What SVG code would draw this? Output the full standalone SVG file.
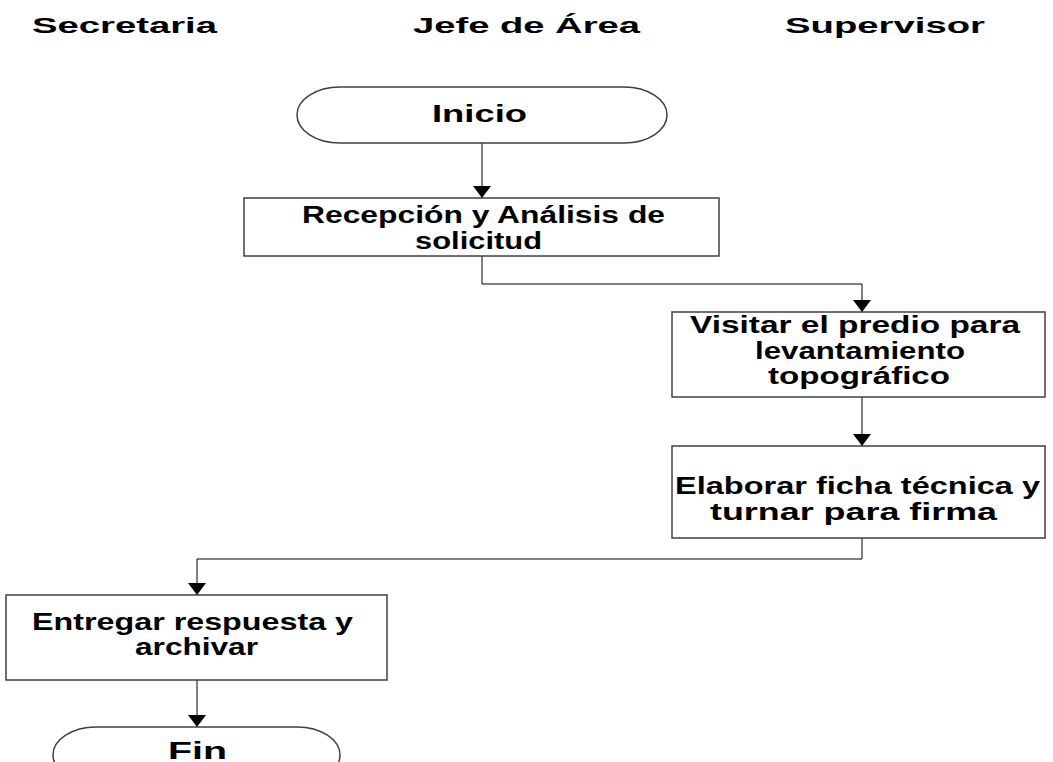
<svg xmlns="http://www.w3.org/2000/svg" width="1053" height="762" viewBox="0 0 1053 762">
<defs>
<style>
.t{font-family:"Liberation Sans",Arial,sans-serif;font-weight:bold;fill:#000;}
.h{font-size:22px;}
.b{font-size:23px;}
.s{fill:#fff;stroke:#404040;stroke-width:1.5;}
.c{fill:none;stroke:#000;stroke-width:1;}
</style>
<marker id="ar" markerWidth="12" markerHeight="18" refX="12" refY="9" orient="auto" markerUnits="userSpaceOnUse">
<path d="M0,0 L12,9 L0,18 Z" fill="#000"/>
</marker>
</defs>
<rect width="1053" height="762" fill="#fff"/>
<g id="headers">
<text class="t h" x="32" y="33" textLength="185" lengthAdjust="spacingAndGlyphs">Secretaria</text>
<text class="t h" x="413" y="33" textLength="227" lengthAdjust="spacingAndGlyphs">Jefe de Área</text>
<text class="t h" x="785" y="33" textLength="200" lengthAdjust="spacingAndGlyphs">Supervisor</text>
</g>
<g id="connectors">
<path class="c" d="M482,143 V198" marker-end="url(#ar)"/>
<path class="c" d="M482,256 V284 H862 V312" marker-end="url(#ar)"/>
<path class="c" d="M862,397 V446" marker-end="url(#ar)"/>
<path class="c" d="M862,538 V559 H197 V595" marker-end="url(#ar)"/>
<path class="c" d="M197,680 V727" marker-end="url(#ar)"/>
</g>
<g id="inicio">
<path class="s" d="M340,87 H624 A43,28 0 0 1 624,143 H340 A43,28 0 0 1 340,87 Z"/>
<text class="t b" x="432" y="122" font-size="24" textLength="95" lengthAdjust="spacingAndGlyphs">Inicio</text>
</g>
<g id="recepcion">
<rect class="s" x="244" y="198" width="475" height="58"/>
<text class="t b" x="302" y="223" textLength="363" lengthAdjust="spacingAndGlyphs">Recepción y Análisis de</text>
<text class="t b" x="415" y="249" textLength="127" lengthAdjust="spacingAndGlyphs">solicitud</text>
</g>
<g id="visitar">
<rect class="s" x="672" y="312" width="373" height="85"/>
<text class="t b" x="690" y="333" textLength="330" lengthAdjust="spacingAndGlyphs">Visitar el predio para</text>
<text class="t b" x="755" y="359" textLength="210" lengthAdjust="spacingAndGlyphs">levantamiento</text>
<text class="t b" x="768" y="384" textLength="182" lengthAdjust="spacingAndGlyphs">topográfico</text>
</g>
<g id="elaborar">
<rect class="s" x="672" y="446" width="373" height="92"/>
<text class="t b" x="675" y="494" textLength="365" lengthAdjust="spacingAndGlyphs">Elaborar ficha técnica y</text>
<text class="t b" x="710" y="520" textLength="287" lengthAdjust="spacingAndGlyphs">turnar para firma</text>
</g>
<g id="entregar">
<rect class="s" x="6" y="595" width="381" height="85"/>
<text class="t b" x="32" y="630" textLength="321" lengthAdjust="spacingAndGlyphs">Entregar respuesta y</text>
<text class="t b" x="135" y="655" textLength="123" lengthAdjust="spacingAndGlyphs">archivar</text>
</g>
<g id="fin">
<path class="s" d="M96,727 H297 A43,28 0 0 1 297,783 H96 A43,28 0 0 1 96,727 Z"/>
<text class="t b" x="168" y="759" font-size="24" textLength="59" lengthAdjust="spacingAndGlyphs">Fin</text>
</g>
</svg>
